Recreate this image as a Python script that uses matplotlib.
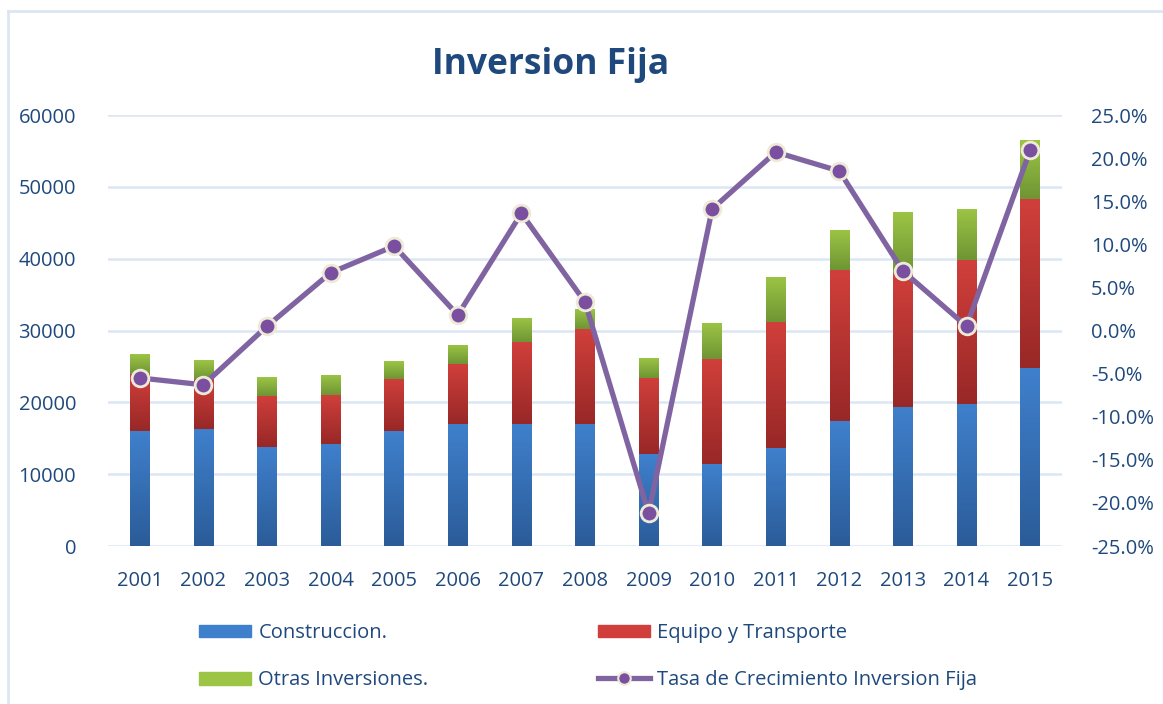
import numpy as np
import matplotlib.pyplot as plt
from matplotlib.colors import LinearSegmentedColormap
from matplotlib.patches import Patch
from matplotlib.lines import Line2D
from matplotlib.ticker import FuncFormatter

plt.rcParams['font.family'] = ['Open Sans', 'DejaVu Sans']

# data
years = ['2001', '2002', '2003', '2004', '2005', '2006', '2007', '2008',
         '2009', '2010', '2011', '2012', '2013', '2014', '2015']
construccion = [16000, 16300, 13800, 14200, 16000, 17000, 17000, 17000,
                12800, 11400, 13600, 17400, 19400, 19800, 24800]
equipo = [8000, 7000, 7100, 6800, 7300, 8300, 11400, 13200,
          10600, 14600, 17600, 21000, 18600, 20000, 23500]
otras = [2700, 2600, 2600, 2800, 2500, 2700, 3400, 2800,
         2800, 5100, 6300, 5600, 8500, 7100, 8200]
tasa = [-5.5, -6.3, 0.5, 6.7, 9.8, 1.8, 13.6, 3.3,
        -21.2, 14.1, 20.7, 18.5, 6.9, 0.5, 20.9]

txt = '#1F497D'
grid_c = '#DCE6F2'
purple = '#8064A2'
series = [
    ('Construccion.', construccion, '#3F80CC', '#2B5C99'),
    ('Equipo y Transporte', equipo, '#D03F3B', '#982827'),
    ('Otras Inversiones.', otras, '#9CC545', '#6F9534'),
]

fig = plt.figure(figsize=(11.63, 7.04), dpi=100)
ax = fig.add_axes([0.0929, 0.2244, 0.8202, 0.6122])

x = np.arange(len(years))
width = 0.31
bottom = np.zeros(len(years))
grad = np.linspace(1, 0, 64).reshape(-1, 1)
for name, vals, top_c, bot_c in series:
    cmap = LinearSegmentedColormap.from_list(name, [bot_c, top_c])
    bars = ax.bar(x, vals, width, bottom=bottom, color=top_c, zorder=2)
    for b in bars:
        x0, y0 = b.get_x(), b.get_y()
        im = ax.imshow(grad, extent=[x0, x0 + b.get_width(), y0, y0 + b.get_height()],
                       aspect='auto', cmap=cmap, vmin=0, vmax=1, zorder=2.1,
                       origin='upper')
        im.set_clip_path(b)
    bottom += np.array(vals)

ax.set_xlim(-0.5, len(years) - 0.5)
ax.set_ylim(0, 60000)
ax.set_yticks(np.arange(0, 60001, 10000))
ax.set_xticks(x)
ax.set_xticklabels(years)
ax.yaxis.grid(True, color=grid_c, lw=1.8)
ax.set_axisbelow(True)
for s in ax.spines.values():
    s.set_visible(False)
ax.tick_params(length=0, colors=txt, labelsize=14.5)
ax.tick_params(axis='y', pad=23)
ax.tick_params(axis='x', pad=18)

ax2 = ax.twinx()
ax2.plot(x, tasa, color=purple, lw=3.8, marker='o', ms=12,
         mfc='#7A4FA0', mec='#EEEAD8', mew=2, zorder=5)
ax2.set_ylim(-25, 25)
ax2.set_yticks(np.arange(-25, 26, 5))
ax2.yaxis.set_major_formatter(FuncFormatter(lambda v, p: f'{v:.1f}%'))
for s in ax2.spines.values():
    s.set_visible(False)
ax2.tick_params(length=0, colors=txt, labelsize=14.5, pad=21)

fig.text(0.473, 0.907, 'Inversion Fija', ha='center', va='center',
         fontsize=25.5, fontweight='bold', color=txt)

# legend fills column by column, so order gives the reference's rows
handles = [Patch(color=series[0][2]), Patch(color=series[2][2]),
           Patch(color=series[1][2]),
           Line2D([], [], color=purple, lw=3.8, marker='o', ms=9,
                  mfc='#7A4FA0', mec='#EEEAD8', mew=1.5)]
labels = ['Construccion.', 'Otras Inversiones.', 'Equipo y Transporte',
          'Tasa de Crecimiento Inversion Fija']
leg = fig.legend(handles, labels, loc='upper left', bbox_to_anchor=(0.171, 0.115),
                 ncol=2, frameon=False, fontsize=14.5, handlelength=2.6,
                 handleheight=0.6, handletextpad=0.35, columnspacing=8.4,
                 labelspacing=1.35, borderpad=0, borderaxespad=0)
for t in leg.get_texts():
    t.set_color(txt)

# chart frame (left and top edges visible)
fig.add_artist(Line2D([8 / 1163, 8 / 1163], [0, 1 - 11 / 704], color=grid_c, lw=2))
fig.add_artist(Line2D([8 / 1163, 1], [1 - 11 / 704, 1 - 11 / 704], color=grid_c, lw=2))

fig.savefig('out.png', dpi=100)
